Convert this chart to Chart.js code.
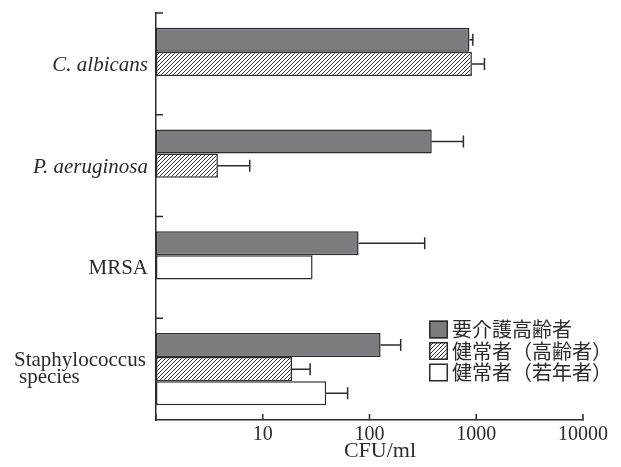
<!DOCTYPE html>
<html>
<head>
<meta charset="utf-8">
<script src="https://cdn.jsdelivr.net/npm/chart.js@4.4.1/dist/chart.umd.min.js"></script>
<style>
  html, body { margin: 0; padding: 0; background: #fff; }
  #wrap { width: 621px; height: 467px; }
</style>
</head>
<body>
<div id="wrap"><canvas id="cfuChart"></canvas></div>
<script>
// data (CFU/ml, log axis)
const categories = ['C. albicans', 'P. aeruginosa', 'MRSA', 'Staphylococcus species'];
const seriesNames = ['要介護高齢者', '健常者（高齢者）', '健常者（若年者）'];
const careElderly = [863, 383, 79, 127];
const careElderlyErr = [929, 758, 329, 196];
const healthyElderly = [910, 3.8, null, 18.8];
const healthyElderlyErr = [1194, 7.55, null, 27.8];
const healthyYoung = [null, null, 29.3, 39.3];
const healthyYoungErr = [null, null, null, 62.4];
const xTicks = [1, 10, 100, 1000, 10000];

const ink = '#2b2b2b';
const serif = '"Liberation Serif", "Times New Roman", serif';

function makeHatch() {
    const c = document.createElement('canvas');
    c.width = 4; c.height = 4;
    const g = c.getContext('2d');
    g.fillStyle = '#fff';
    g.fillRect(0, 0, 4, 4);
    g.strokeStyle = '#333';
    g.lineWidth = 1;
    g.beginPath();
    g.moveTo(-1, 5); g.lineTo(5, -1);
    g.moveTo(-1, 1); g.lineTo(1, -1);
    g.moveTo(3, 5); g.lineTo(5, 3);
    g.stroke();
    return g.createPattern(c, 'repeat');
}
const fills = ['#7b7c80', makeHatch(), '#ffffff'];

// the figure packs present bars into the first slots of each group
const slots = [[], [], []];
categories.forEach((c, i) => {
    const present = [
        [careElderly[i], careElderlyErr[i], 0],
        [healthyElderly[i], healthyElderlyErr[i], 1],
        [healthyYoung[i], healthyYoungErr[i], 2]
    ].filter(p => p[0] != null);
    for (let k = 0; k < 3; k++) slots[k].push(present[k] || [null, null, null]);
});

const datasets = slots.map(s => ({
    data: s.map(p => p[0]),
    errs: s.map(p => p[1]),
    backgroundColor: s.map(p => p[2] == null ? 'transparent' : fills[p[2]]),
    borderColor: ink,
    borderWidth: 1.5,
    borderSkipped: false,
    categoryPercentage: 0.711,
    barPercentage: 1
}));

const errorBars = {
    id: 'errorBars',
    afterDatasetsDraw(chart) {
        const ctx = chart.ctx;
        const x = chart.scales.x;
        ctx.save();
        ctx.strokeStyle = ink;
        ctx.lineWidth = 1.5;
        chart.data.datasets.forEach((ds, d) => {
            chart.getDatasetMeta(d).data.forEach((bar, i) => {
                const e = ds.errs[i];
                if (e == null) return;
                const x1 = x.getPixelForValue(e);
                ctx.beginPath();
                ctx.moveTo(bar.x, bar.y);
                ctx.lineTo(x1, bar.y);
                ctx.moveTo(x1, bar.y - 6);
                ctx.lineTo(x1, bar.y + 6);
                ctx.stroke();
            });
        });
        ctx.restore();
    }
};

const axisDecor = {
    id: 'axisDecor',
    afterDraw(chart) {
        const ctx = chart.ctx;
        const a = chart.chartArea;
        const x = chart.scales.x, y = chart.scales.y;
        ctx.save();
        ctx.strokeStyle = ink;
        ctx.lineWidth = 1.5;
        // inward ticks
        ctx.beginPath();
        xTicks.forEach(v => {
            const px = x.getPixelForValue(v);
            ctx.moveTo(px, a.bottom);
            ctx.lineTo(px, a.bottom - 6);
        });
        const band = (a.bottom - a.top) / categories.length;
        for (let k = 0; k < categories.length; k++) {
            const py = a.top + k * band;
            ctx.moveTo(a.left, py);
            ctx.lineTo(a.left + 7, py);
        }
        ctx.stroke();

        // category labels
        ctx.fillStyle = ink;
        ctx.textBaseline = 'alphabetic';
        categories.forEach((c, i) => {
            const py = y.getPixelForValue(i);
            if (i < 2) {
                ctx.font = 'italic 21px ' + serif;
                ctx.textAlign = 'right';
                ctx.fillText(c, a.left - 8, py + 7);
            } else if (i === 2) {
                ctx.font = '21px ' + serif;
                ctx.textAlign = 'right';
                ctx.fillText(c, a.left - 8, py + 7);
            } else {
                const parts = c.split(' ');
                ctx.font = '21px ' + serif;
                ctx.textAlign = 'left';
                ctx.fillText(parts[0], 14, py - 3);
                ctx.fillText(parts[1], 19, py + 14);
            }
        });

        // axis title
        ctx.font = '22px ' + serif;
        ctx.textAlign = 'center';
        ctx.fillText('CFU/ml', 380, 457);

        // legend
        ctx.font = '20px "Noto Sans CJK JP", sans-serif';
        ctx.textAlign = 'left';
        ctx.textBaseline = 'middle';
        seriesNames.forEach((n, i) => {
            const top = 320.5 + i * 21.5;
            ctx.fillStyle = fills[i];
            ctx.fillRect(429, top, 19, 18);
            ctx.lineWidth = 1.5;
            ctx.strokeRect(429.75, top + 0.75, 17.5, 16.5);
            ctx.fillStyle = ink;
            ctx.fillText(n, 452, top + 9);
        });
        ctx.restore();
    }
};

new Chart(document.getElementById('cfuChart'), {
    type: 'bar',
    data: { labels: categories, datasets: datasets },
    options: {
        indexAxis: 'y',
        responsive: true,
        maintainAspectRatio: false,
        animation: false,
        layout: { padding: { left: 156, right: 38, top: 13, bottom: 17 } },
        plugins: { legend: { display: false }, tooltip: { enabled: false } },
        scales: {
            x: {
                type: 'logarithmic',
                min: 1,
                max: 10000,
                afterBuildTicks: scale => { scale.ticks = xTicks.map(v => ({ value: v })); },
                grid: { display: false, drawTicks: false, tickLength: 0 },
                border: { display: true, color: ink, width: 1.5 },
                ticks: {
                    autoSkip: false,
                    maxRotation: 0,
                    padding: 3,
                    color: ink,
                    font: { family: serif, size: 20 },
                    callback: v => v === 1 ? '' : String(v)
                }
            },
            y: {
                grid: { display: false, drawTicks: false, tickLength: 0 },
                border: { display: true, color: ink, width: 1.5 },
                ticks: { display: false }
            }
        }
    },
    plugins: [errorBars, axisDecor]
});
</script>
</body>
</html>
